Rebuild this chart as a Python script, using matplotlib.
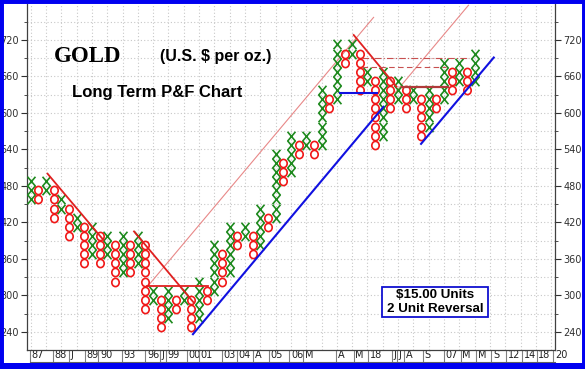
import matplotlib
matplotlib.use('Agg')
import matplotlib.pyplot as plt
from matplotlib.path import Path
from matplotlib.patches import Rectangle
import matplotlib.transforms as mtransforms
import numpy as np

BOX = 15  # $15.00 units

# ---- P&F columns (box bottoms, low..high) ----
col_types = list("XOXOXOXOXOXOXOXOXOXOXOXOXOXOXOXOXOXOXOXOXOXOXOXOXOXOXOXOXOX")
col_low = [450, 450, 465, 420, 435, 390, 405, 345, 360, 345,
           360, 315, 330, 330, 345, 270, 285, 240, 255, 270,
           285, 240, 255, 285, 300, 315, 330, 375, 390, 360,
           375, 405, 420, 480, 495, 525, 540, 525, 540, 600,
           615, 675, 690, 630, 645, 540, 555, 600, 615, 600,
           615, 555, 570, 600, 615, 630, 645, 630, 645]
col_high = [480, 465, 480, 465, 450, 435, 420, 405, 405, 390,
            390, 375, 390, 375, 390, 375, 300, 285, 300, 285,
            300, 285, 315, 300, 375, 360, 405, 390, 405, 390,
            435, 420, 525, 510, 555, 540, 555, 540, 630, 615,
            705, 690, 705, 690, 660, 645, 660, 645, 645, 630,
            630, 615, 630, 615, 675, 660, 675, 660, 690]

# ---- x-axis date labels (column positions) ----
x_label_pos = [-0.1, 2.95, 5.0, 7.1, 8.85, 11.9, 15.0, 16.9, 17.65, 20.4,
               22.0, 25.0, 27.0, 29.1, 31.1, 33.8, 35.6, 39.9, 42.2, 44.1,
               47.2, 47.9, 48.8, 51.3, 54.0, 56.2, 58.2, 60.2, 62.1, 64.2,
               66.1, 68.3]
x_labels = ["87", "88", "J", "89", "90", "93", "96", "J", "99", "00",
            "01", "03", "04", "A", "05", "06", "M", "A", "M", "18",
            "J", "J", "A", "S", "07", "M", "M", "S", "12", "14",
            "18", "20"]

y_ticks = [240, 300, 360, 420, 480, 540, 600, 660, 720]

# ---- trend lines (x0, y0, x1, y1) in column / price units ----
red_lines = [(2.2, 500, 9.5, 391), (13.5, 405, 21.3, 288),
             (15.2, 315, 23.2, 315), (42.2, 728, 47.8, 643)]
pink_lines = [(15.3, 315, 44.8, 757), (47.6, 633, 57.2, 777)]
blue_lines = [(21.2, 236, 46.1, 610), (40.4, 632, 45.2, 632),
              (51.0, 549, 60.5, 691)]
darkred_lines = [(48.5, 643, 54.5, 643)]
dashdot_lines = [(43.3, 690, 57.2, 690)]
dashed_lines = [(43.3, 675, 54.2, 675)]

W, H = 585, 369
fig = plt.figure(figsize=(W / 100, H / 100), dpi=100)
fig.patch.set_facecolor('white')

ax_l, ax_r, ax_t, ax_b = 27, 555, 4, 350
ax = fig.add_axes([ax_l / W, 1 - ax_b / H, (ax_r - ax_l) / W, (ax_b - ax_t) / H])
ax.set_xlim(-0.48, 68.5)
ax.set_ylim(210, 779)

# grid
for yv in np.arange(240, 780, 30):
    ax.axhline(yv, color='#c8c8c8', lw=0.8, ls=(0, (1, 2)), zorder=0)
for xv in np.arange(0, 69, 2):
    ax.axvline(xv, color='#c8c8c8', lw=0.8, ls=(0, (1, 2)), zorder=0)

# markers
x_path = Path([(-0.42, -0.5), (0.42, 0.5), (-0.42, 0.5), (0.42, -0.5)],
              [Path.MOVETO, Path.LINETO, Path.MOVETO, Path.LINETO])
o_path = Path.unit_circle().transformed(mtransforms.Affine2D().scale(0.9, 1.0))

xs_x, ys_x, xs_o, ys_o = [], [], [], []
for i, (t, lo, hi) in enumerate(zip(col_types, col_low, col_high)):
    for b in range(lo, hi + 1, BOX):
        if t == 'X':
            xs_x.append(i); ys_x.append(b + BOX / 2)
        else:
            xs_o.append(i); ys_o.append(b + BOX / 2)

ax.plot(xs_x, ys_x, ls='none', marker=x_path, ms=6.8, mew=1.2,
        mec='#1f8a1f', mfc='none', zorder=3)
ax.plot(xs_o, ys_o, ls='none', marker=o_path, ms=5.9, mew=1.2,
        mec='#f01818', mfc='none', zorder=3)

def draw(lines, **kw):
    for x0, y0, x1, y1 in lines:
        ax.plot([x0, x1], [y0, y1], **kw)

draw(pink_lines, color='#e88888', lw=0.8, zorder=2)
draw(red_lines, color='#e02020', lw=1.3, zorder=4)
draw(blue_lines, color='#1010e0', lw=1.5, zorder=4)
draw(darkred_lines, color='#b03a3a', lw=1.6, zorder=4)
draw(dashdot_lines, color='#c85050', lw=0.8, ls=(0, (6, 2, 1, 2)), zorder=4)
draw(dashed_lines, color='#c85050', lw=0.8, ls=(0, (5, 3)), zorder=4)

# y axis both sides
ax.set_yticks(y_ticks)
ax.set_yticks(np.arange(270, 780, 60), minor=True)
ax.tick_params(axis='y', which='both', left=True, right=True,
               labelleft=True, labelright=True, direction='out',
               labelsize=7, colors='#303030', pad=2)
ax.tick_params(axis='y', which='major', length=4)
ax.tick_params(axis='y', which='minor', length=2)

# x axis labels in a strip below
ax.set_xticks(x_label_pos)
ax.set_xticklabels(x_labels)
ax.tick_params(axis='x', which='major', direction='out', length=8.5,
               width=0.8, color='#808080', pad=-8.2, labelsize=7,
               labelcolor='#202020')
offset = mtransforms.ScaledTranslation(1.5 / 100, 0, fig.dpi_scale_trans)
for lbl in ax.get_xticklabels():
    lbl.set_horizontalalignment('left')
    lbl.set_transform(lbl.get_transform() + offset)

for sp in ax.spines.values():
    sp.set_color('#404040')
    sp.set_linewidth(0.9)
ax.spines['top'].set_visible(False)

# strip bottom line
fig.add_artist(plt.Line2D([30 / W, ax_r / W], [1 - 361.5 / H, 1 - 361.5 / H],
                          color='#606060', lw=0.8))

# titles
fig.text(88 / W, 1 - 57 / H, "GOLD", family='Liberation Serif',
         fontweight='bold', fontsize=16.5, ha='center', va='center')
fig.text(216 / W, 1 - 57 / H, "(U.S. $ per oz.)", family='Liberation Sans',
         fontweight='bold', fontsize=11.5, ha='center', va='center')
fig.text(157 / W, 1 - 92 / H, "Long Term P&F Chart", family='Liberation Sans',
         fontweight='bold', fontsize=12, ha='center', va='center')

# units box
fig.add_artist(Rectangle((382.3 / W, 1 - 317.3 / H), 106 / W, 30.6 / H,
                         transform=fig.transFigure, facecolor='white',
                         edgecolor='#1010d0', lw=1.3, zorder=5))
fig.text(435.3 / W, 1 - 294.5 / H, "$15.00 Units", family='Liberation Sans',
         fontweight='bold', fontsize=9.6, ha='center', va='center', zorder=6)
fig.text(435.3 / W, 1 - 309.5 / H, "2 Unit Reversal", family='Liberation Sans',
         fontweight='bold', fontsize=9.6, ha='center', va='center', zorder=6)

# blue outer frame
fig.add_artist(Rectangle((0, 0), 1, 1, transform=fig.transFigure, fill=False,
                         edgecolor='#0000f0', lw=5, zorder=10))
fig.add_artist(Rectangle((0, 0), 1, 6 / H, transform=fig.transFigure,
                         facecolor='#0000f0', edgecolor='none', zorder=10))

fig.savefig('out.png', dpi=100)
